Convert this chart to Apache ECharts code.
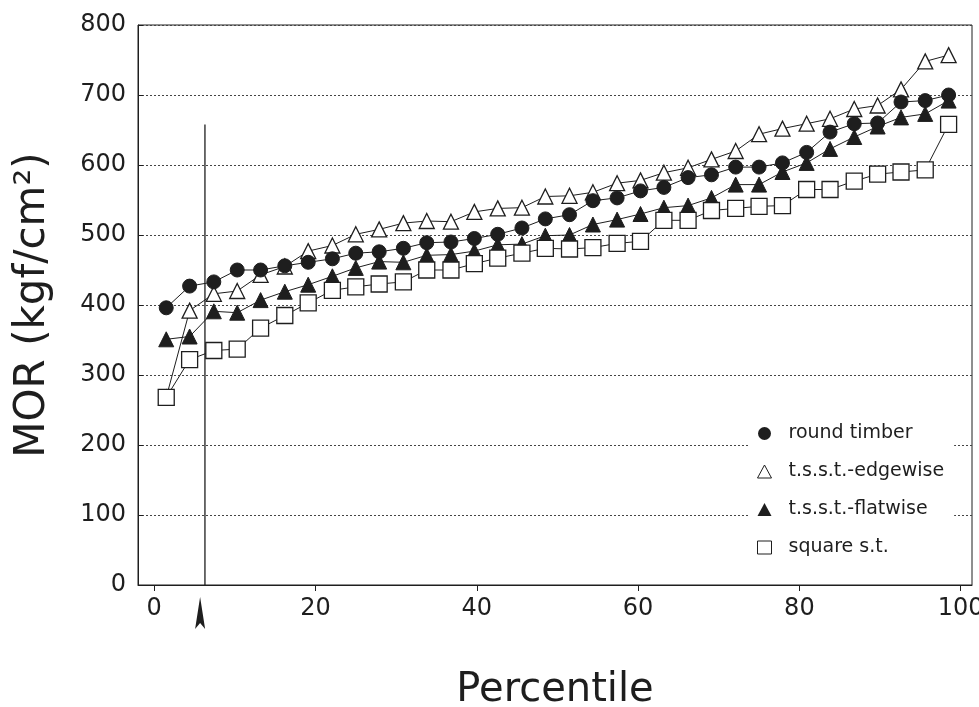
<!DOCTYPE html>
<html>
<head>
<meta charset="utf-8">
<script src="https://cdn.jsdelivr.net/npm/echarts@6/dist/echarts.min.js"></script>
<style>
  html, body { margin: 0; padding: 0; background: #ffffff; }
  #chart { width: 979px; height: 707px; }
</style>
</head>
<body>
<div id="chart"></div>
<script>
// Plotting position (percentile) of each ranked specimen
const percentile = [1.5, 4.4, 7.4, 10.3, 13.2, 16.2, 19.1, 22.1, 25.0, 27.9, 30.9, 33.8,
  36.8, 39.7, 42.6, 45.6, 48.5, 51.5, 54.4, 57.4, 60.3, 63.2, 66.2, 69.1, 72.1, 75.0,
  77.9, 80.9, 83.8, 86.8, 89.7, 92.6, 95.6, 98.5];

// Modulus of rupture, kgf/cm2, sorted ascending
const roundTimber = [396, 427, 433, 450, 450, 456, 461, 466, 474, 476, 481, 489, 490, 495,
  501, 510, 523, 529, 549, 553, 563, 568, 582, 586, 597, 597, 603, 618, 647, 659, 660,
  690, 692, 700];
const tsstEdgewise = [268, 392, 416, 420, 443, 455, 477, 485, 501, 508, 517, 520, 519, 533,
  538, 539, 555, 556, 561, 574, 578, 589, 596, 608, 620, 644, 652, 659, 666, 680, 685,
  708, 748, 757];
const tsstFlatwise = [351, 355, 391, 389, 407, 419, 429, 441, 453, 462, 461, 471, 472, 477,
  486, 487, 499, 500, 515, 522, 530, 539, 542, 553, 572, 572, 590, 603, 623, 640, 655,
  668, 673, 692];
const squareST = [268, 322, 335, 337, 367, 385, 403, 421, 426, 430, 433, 450, 450, 459,
  467, 474, 481, 480, 482, 488, 491, 521, 521, 535, 538, 541, 542, 565, 565, 577, 587,
  590, 593, 658];

const seriesNames = ['round timber', 't.s.s.t.-edgewise', 't.s.s.t.-flatwise', 'square s.t.'];

// Axis tick labels
const xTickValues = [0, 20, 40, 60, 80, 100];
const yTicks = { min: 0, max: 800, step: 100 };

// 5th-percentile marker line
const cutoffPercentile = 6.3;
const cutoffTop = 658;
const arrowPercentile = 5.7;

const FONT = 'DejaVu Sans';
const INK = '#1e1e1e';

function pairs(ys) { return ys.map((y, i) => [percentile[i], y]); }

const chart = echarts.init(document.getElementById('chart'), null, { renderer: 'canvas' });

const lineStyle = { color: INK, width: 1 };

chart.setOption({
  animation: false,
  backgroundColor: '#ffffff',
  grid: {
    left: 138, right: 7, top: 25, bottom: 122,
    containLabel: false, outerBoundsMode: 'none',
    show: true, borderColor: INK, borderWidth: 1
  },
  xAxis: {
    type: 'value', min: -2, max: 101.4,
    name: 'Percentile', nameLocation: 'middle', nameGap: 86,
    nameTextStyle: { fontFamily: FONT, fontSize: 40, color: INK },
    axisLine: { show: true, onZero: false, lineStyle: { color: INK, width: 1 } },
    axisTick: { show: true, inside: false, length: 6, customValues: xTickValues, lineStyle: { color: INK } },
    axisLabel: { customValues: xTickValues, fontFamily: FONT, fontSize: 24, color: INK, margin: 12 },
    splitLine: { show: false }
  },
  yAxis: {
    type: 'value', min: yTicks.min, max: yTicks.max, interval: yTicks.step,
    name: 'MOR (kgf/cm²)', nameLocation: 'middle', nameGap: 84,
    nameTextStyle: { fontFamily: FONT, fontSize: 42, color: INK },
    axisLine: { show: true, onZero: false, lineStyle: { color: INK, width: 1 } },
    axisTick: { show: true, inside: true, length: 5, lineStyle: { color: INK } },
    axisLabel: { fontFamily: FONT, fontSize: 24, color: INK, margin: 12 },
    splitLine: { show: true, lineStyle: { color: '#444', width: 1, type: [2, 2] } }
  },
  legend: {
    orient: 'vertical', left: 749, top: 416,
    padding: [8, 10, 8, 8], itemGap: 19, itemWidth: 14, itemHeight: 13,
    backgroundColor: '#ffffff', selectedMode: false,
    textStyle: { fontFamily: FONT, fontSize: 19, color: INK, padding: [0, 0, 0, 12] },
    data: [
      { name: seriesNames[0], icon: 'circle', itemStyle: { color: INK, borderWidth: 0 } },
      { name: seriesNames[1], icon: 'triangle', itemStyle: { color: '#fff', borderColor: INK, borderWidth: 1 } },
      { name: seriesNames[2], icon: 'triangle', itemStyle: { color: INK, borderWidth: 0 } },
      { name: seriesNames[3], icon: 'rect', itemStyle: { color: '#fff', borderColor: INK, borderWidth: 1 } }
    ]
  },
  series: [
    {
      name: seriesNames[1], type: 'line', data: pairs(tsstEdgewise),
      symbol: 'triangle', symbolSize: 15, showAllSymbol: true,
      lineStyle: lineStyle,
      itemStyle: { color: '#ffffff', borderColor: INK, borderWidth: 1.3 }
    },
    {
      name: seriesNames[2], type: 'line', data: pairs(tsstFlatwise),
      symbol: 'triangle', symbolSize: 15, showAllSymbol: true,
      lineStyle: lineStyle,
      itemStyle: { color: INK, borderColor: INK, borderWidth: 1 }
    },
    {
      name: seriesNames[3], type: 'line', data: pairs(squareST),
      symbol: 'rect', symbolSize: 16, showAllSymbol: true,
      lineStyle: lineStyle,
      itemStyle: { color: '#ffffff', borderColor: INK, borderWidth: 1.3 }
    },
    {
      name: seriesNames[0], type: 'line', data: pairs(roundTimber),
      symbol: 'circle', symbolSize: 14, showAllSymbol: true,
      lineStyle: lineStyle,
      itemStyle: { color: INK, borderColor: INK, borderWidth: 1 }
    },
    {
      name: 'cutoff', type: 'line', silent: true, z: 5,
      data: [[cutoffPercentile, 0], [cutoffPercentile, cutoffTop]],
      symbol: 'none', lineStyle: { color: INK, width: 1.3 }
    }
  ]
});

// Arrow under the axis pointing at the cutoff percentile
const base = chart.convertToPixel({ xAxisIndex: 0, yAxisIndex: 0 }, [arrowPercentile, 0]);
const ax = base[0], ay = base[1];
chart.setOption({
  graphic: [{
    type: 'polygon', z: 10,
    shape: { points: [[ax, ay + 12], [ax + 5, ay + 44], [ax, ay + 38], [ax - 5, ay + 44]] },
    style: { fill: INK }
  }]
});
</script>
</body>
</html>
